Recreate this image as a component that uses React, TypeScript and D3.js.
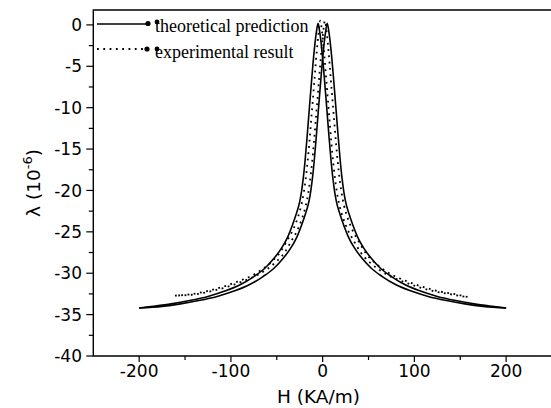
import React from "react";
import * as d3 from "d3";

// Theoretical prediction, branch peaking at negative field
const thA_H = [-200,-185,-165,-145,-125,-105,-90,-75,-63,-53,-45,-38,-33,-29,-25,-23,-21,-19,-17,-15,-13,-11,-9,-7,-5,-3,-1,1,3,5,7,9,11,13,15,19,23,28,35,43,53,65,80,95,115,135,155,175,200];
const thA_L = [-34.2,-34.0,-33.7,-33.3,-32.8,-32.1,-31.4,-30.4,-29.4,-28.2,-27.0,-25.6,-24.2,-22.9,-21.35,-20.1,-18.4,-16.2,-13.6,-10.8,-8.0,-5.3,-2.9,-1.0,0.2,-1.0,-2.9,-5.3,-8.0,-10.8,-13.6,-16.2,-18.4,-20.1,-21.35,-22.9,-24.2,-25.6,-27.0,-28.2,-29.4,-30.4,-31.4,-32.1,-32.8,-33.3,-33.7,-34.0,-34.2];
// Theoretical prediction, branch peaking at positive field
const thB_H = [-200,-175,-155,-135,-115,-95,-80,-65,-53,-43,-35,-28,-23,-19,-15,-13,-11,-9,-7,-5,-3,-1,1,3,5,7,9,11,13,15,17,19,21,23,25,29,33,38,45,53,63,75,90,105,125,145,165,185,200];
const thB_L = [-34.2,-34.0,-33.7,-33.3,-32.8,-32.1,-31.4,-30.4,-29.4,-28.2,-27.0,-25.6,-24.2,-22.9,-21.35,-20.1,-18.4,-16.2,-13.6,-10.8,-8.0,-5.3,-2.9,-1.0,0.2,-1.0,-2.9,-5.3,-8.0,-10.8,-13.6,-16.2,-18.4,-20.1,-21.35,-22.9,-24.2,-25.6,-27.0,-28.2,-29.4,-30.4,-31.4,-32.1,-32.8,-33.3,-33.7,-34.0,-34.2];
// Experimental result, two branches
const exA_H = [-161,-147.5,-127.5,-107.5,-92.5,-77.5,-65.5,-55.5,-46.5,-38.5,-32.5,-27.5,-23.5,-20.5,-18.5,-16.5,-14.5,-12.5,-10.5,-8.5,-6.5,-4.5,-2.5,-0.5,1.5,3.5,5.5,7.5,9.5,11.5,13.5,15.5,18.5,22.5,27.5,33.5,41.5,50.5,60.5,72.5,87.5,102.5,122.5,142.5,159];
const exA_L = [-32.7,-32.6,-32.2,-31.6,-31.0,-30.3,-29.5,-28.6,-27.5,-26.0,-24.8,-23.4,-21.9,-20.2,-18.6,-16.6,-14.2,-11.5,-8.8,-6.0,-3.3,-1.0,0.5,-1.0,-3.3,-6.0,-8.8,-11.5,-14.2,-16.6,-18.6,-20.2,-21.9,-23.4,-24.8,-26.0,-27.5,-28.6,-29.5,-30.3,-31.0,-31.6,-32.2,-32.6,-32.9];
const exB_H = [-161,-142.5,-122.5,-102.5,-87.5,-72.5,-60.5,-50.5,-41.5,-33.5,-27.5,-22.5,-18.5,-15.5,-13.5,-11.5,-9.5,-7.5,-5.5,-3.5,-1.5,0.5,2.5,4.5,6.5,8.5,10.5,12.5,14.5,16.5,18.5,20.5,23.5,27.5,32.5,38.5,46.5,55.5,65.5,77.5,92.5,107.5,127.5,147.5,159];
const exB_L = [-32.7,-32.6,-32.2,-31.6,-31.0,-30.3,-29.5,-28.6,-27.5,-26.0,-24.8,-23.4,-21.9,-20.2,-18.6,-16.6,-14.2,-11.5,-8.8,-6.0,-3.3,-1.0,0.5,-1.0,-3.3,-6.0,-8.8,-11.5,-14.2,-16.6,-18.6,-20.2,-21.9,-23.4,-24.8,-26.0,-27.5,-28.6,-29.5,-30.3,-31.0,-31.6,-32.2,-32.6,-32.9];

const xMajor = [-200, -100, 0, 100, 200];
const xMinor = [-150, -50, 50, 150];
const yMajor = [0, -5, -10, -15, -20, -25, -30, -35, -40];
const yMinor = [-2.5, -7.5, -12.5, -17.5, -22.5, -27.5, -32.5, -37.5];

const W = 551, H = 408;
const L = 93.3, R = 552, T = 10, B = 356;

const sans = "'DejaVu Sans', sans-serif";
const serif = "'Liberation Serif', 'Times New Roman', serif";

export default function App() {
  const x = d3.scaleLinear().domain([-250, 250]).range([L, R]);
  const y = d3.scaleLinear().domain([-40, 1.8]).range([B, T]);
  const line = d3.line<[number, number]>().x(d => x(d[0])).y(d => y(d[1])).curve(d3.curveMonotoneX);
  const zip = (a: number[], b: number[]) => a.map((v, i) => [v, b[i]] as [number, number]);

  return (
    <svg width={W} height={H} style={{ position: "absolute", left: 0, top: 0, background: "#fff" }}>
      <defs>
        <clipPath id="plot"><rect x={L} y={T} width={R - L} height={B - T} /></clipPath>
      </defs>
      <rect x={0} y={0} width={W} height={H} fill="#fff" />
      <g clipPath="url(#plot)" fill="none" stroke="#000">
        <path d={line(zip(thA_H, thA_L)) || ""} strokeWidth={1.6} />
        <path d={line(zip(thB_H, thB_L)) || ""} strokeWidth={1.6} />
        <path d={line(zip(exA_H, exA_L)) || ""} strokeWidth={1.8} strokeDasharray="1.8,4.5" />
        <path d={line(zip(exB_H, exB_L)) || ""} strokeWidth={1.8} strokeDasharray="1.8,4.5" strokeDashoffset={3} />
      </g>
      {/* frame */}
      <path d={`M${R},${T}H${L}V${B}H${R}`} fill="none" stroke="#000" strokeWidth={1.4} />
      {/* x ticks */}
      {xMajor.map(v => (
        <g key={"xm" + v}>
          <line x1={x(v)} x2={x(v)} y1={B} y2={B + 6} stroke="#000" strokeWidth={1.2} />
          <text x={x(v)} y={377} textAnchor="middle" fontFamily={sans} fontSize={17} fill="#000">{v}</text>
        </g>
      ))}
      {xMinor.map(v => (
        <line key={"xn" + v} x1={x(v)} x2={x(v)} y1={B} y2={B + 4} stroke="#000" strokeWidth={1.2} />
      ))}
      {/* y ticks */}
      {yMajor.map(v => (
        <g key={"ym" + v}>
          <line x1={L - 7} x2={L} y1={y(v)} y2={y(v)} stroke="#000" strokeWidth={1.2} />
          <text x={82} y={y(v) + 6.2} textAnchor="end" fontFamily={sans} fontSize={17} fill="#000">{v}</text>
        </g>
      ))}
      {yMinor.map(v => (
        <line key={"yn" + v} x1={L - 4.5} x2={L} y1={y(v)} y2={y(v)} stroke="#000" strokeWidth={1.2} />
      ))}
      {/* axis titles */}
      <text x={318.5} y={403} textAnchor="middle" fontFamily={sans} fontSize={18.5} fill="#000">H (KA/m)</text>
      <text transform={`translate(40,${(T + B) / 2}) rotate(-90)`} textAnchor="middle" fontFamily={sans} fontSize={18.5} fill="#000">
        λ (10<tspan dy={-8} fontSize={13}>-6</tspan><tspan dy={8}>)</tspan>
      </text>
      {/* legend */}
      <g>
        <line x1={97} x2={148} y1={24} y2={24} stroke="#000" strokeWidth={1.5} />
        <circle cx={148} cy={23.5} r={2.6} fill="#000" />
        <circle cx={157} cy={22} r={2.4} fill="#000" />
        <text x={155} y={32} fontFamily={serif} fontSize={18} fill="#000">theoretical prediction</text>
        <line x1={97} x2={147} y1={49} y2={49} stroke="#000" strokeWidth={1.8} strokeDasharray="1.8,4.5" />
        <circle cx={147} cy={49} r={2.6} fill="#000" />
        <circle cx={157} cy={49} r={2.4} fill="#000" />
        <text x={155} y={58} fontFamily={serif} fontSize={18} fill="#000">experimental result</text>
      </g>
    </svg>
  );
}
